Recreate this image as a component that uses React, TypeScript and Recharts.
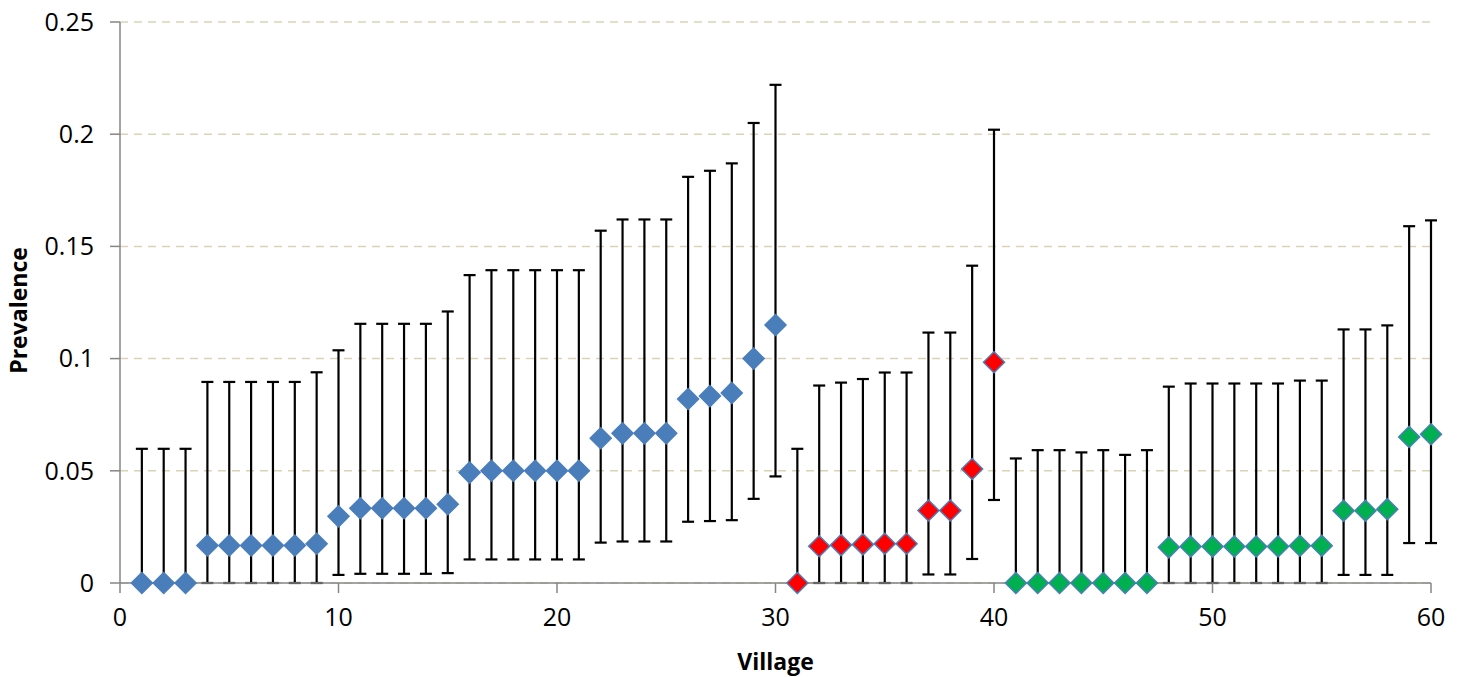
import React from 'react';
import { ScatterChart, Scatter, XAxis, YAxis, CartesianGrid, ErrorBar, Label } from 'recharts';

// villages 1-30 (blue)
const villagesBlue = [1, 2, 3, 4, 5, 6, 7, 8, 9, 10, 11, 12, 13, 14, 15, 16, 17, 18, 19, 20, 21, 22, 23, 24, 25, 26, 27, 28, 29, 30];
const prevBlue = [0, 0, 0, 0.0167, 0.0167, 0.0167, 0.0167, 0.0167, 0.0175, 0.0297, 0.0333, 0.0333, 0.0333, 0.0333, 0.0351, 0.0492, 0.05, 0.05, 0.05, 0.05, 0.05, 0.0645, 0.0667, 0.0667, 0.0667, 0.082, 0.0833, 0.0847, 0.1, 0.115];
const lowBlue = [0, 0, 0, 0, 0, 0, 0, 0, 0, 0.0036, 0.0041, 0.0041, 0.0041, 0.0041, 0.0044, 0.0105, 0.0105, 0.0105, 0.0105, 0.0105, 0.0105, 0.018, 0.0185, 0.0185, 0.0185, 0.0273, 0.0276, 0.028, 0.0375, 0.0475];
const highBlue = [0.0598, 0.0598, 0.0598, 0.0896, 0.0896, 0.0896, 0.0896, 0.0896, 0.0939, 0.1037, 0.1155, 0.1155, 0.1155, 0.1155, 0.121, 0.1372, 0.1394, 0.1394, 0.1394, 0.1394, 0.1394, 0.157, 0.162, 0.162, 0.162, 0.181, 0.1837, 0.187, 0.205, 0.222];

// villages 31-40 (red)
const villagesRed = [31, 32, 33, 34, 35, 36, 37, 38, 39, 40];
const prevRed = [0, 0.0164, 0.0169, 0.0172, 0.0175, 0.0175, 0.0323, 0.0323, 0.0508, 0.0984];
const lowRed = [0, 0, 0, 0, 0, 0, 0.0038, 0.0038, 0.0107, 0.037];
const highRed = [0.0598, 0.088, 0.0893, 0.0909, 0.0938, 0.0938, 0.1116, 0.1116, 0.1414, 0.202];

// villages 41-60 (green)
const villagesGreen = [41, 42, 43, 44, 45, 46, 47, 48, 49, 50, 51, 52, 53, 54, 55, 56, 57, 58, 59, 60];
const prevGreen = [0, 0, 0, 0, 0, 0, 0, 0.0159, 0.0163, 0.0163, 0.0163, 0.0163, 0.0163, 0.0166, 0.0166, 0.0322, 0.0322, 0.0329, 0.0651, 0.0663];
const lowGreen = [0, 0, 0, 0, 0, 0, 0, 0, 0, 0, 0, 0, 0, 0, 0, 0.0036, 0.0036, 0.0036, 0.0178, 0.0178];
const highGreen = [0.0555, 0.0592, 0.0592, 0.0582, 0.0592, 0.0571, 0.0592, 0.0875, 0.0889, 0.0889, 0.0889, 0.0889, 0.0889, 0.0902, 0.0902, 0.113, 0.113, 0.1148, 0.159, 0.1616];

const xTicks = [0, 10, 20, 30, 40, 50, 60];
const yTicks = [0, 0.05, 0.1, 0.15, 0.2, 0.25];

const build = (xs: number[], ys: number[], lo: number[], hi: number[]) =>
  xs.map((x, i) => ({ x, y: ys[i], err: [ys[i] - lo[i], hi[i] - ys[i]] }));

const blueData = build(villagesBlue, prevBlue, lowBlue, highBlue);
const redData = build(villagesRed, prevRed, lowRed, highRed);
const greenData = build(villagesGreen, prevGreen, lowGreen, highGreen);

const AXIS = '#868686';
const BLUE = '#4a7ebb';

const Diamond = (props: any) => {
  const { cx, cy, fill, stroke } = props;
  const r = 10.5;
  return (
    <path
      d={`M${cx},${cy - r}L${cx + r},${cy}L${cx},${cy + r}L${cx - r},${cy}Z`}
      fill={fill}
      stroke={stroke}
      strokeWidth={1.5}
    />
  );
};

export default function App() {
  return (
    <div style={{ position: 'absolute', left: 0, top: 0, fontFamily: '"Open Sans", sans-serif' }}>
      <ScatterChart width={1465} height={677} margin={{ top: 22, right: 34, bottom: 0, left: 0 }}>
        <CartesianGrid vertical={false} stroke="#d9d4b5" strokeDasharray="8 6" strokeWidth={1.5} />
        <XAxis
          type="number"
          dataKey="x"
          domain={[0, 60]}
          ticks={xTicks}
          height={94}
          tickSize={10}
          tickMargin={15}
          stroke={AXIS}
          strokeWidth={1.5}
          tick={{ fill: '#000', fontSize: 25 }}
        >
          <Label
            content={(p: any) => {
              const vb = p.viewBox;
              return (
                <text x={vb.x + vb.width / 2} y={vb.y + 78} textAnchor="middle" dominantBaseline="central" fontWeight="bold" fontSize={23} fill="#000">
                  Village
                </text>
              );
            }}
          />
        </XAxis>
        <YAxis
          type="number"
          dataKey="y"
          domain={[0, 0.25]}
          ticks={yTicks}
          width={120}
          tickSize={10}
          tickMargin={16}
          stroke={AXIS}
          strokeWidth={1.5}
          tick={{ fill: '#000', fontSize: 25 }}
        >
          <Label
            content={(p: any) => {
              const vb = p.viewBox;
              const cx = vb.x + 18;
              const cy = vb.y + vb.height / 2 + 8;
              return (
                <text x={cx} y={cy} transform={`rotate(-90 ${cx} ${cy})`} textAnchor="middle" dominantBaseline="central" fontWeight="bold" fontSize={23} fill="#000">
                  Prevalence
                </text>
              );
            }}
          />
        </YAxis>
        <Scatter data={blueData} isAnimationActive={false} fill={BLUE} shape={(p: any) => <Diamond {...p} fill={BLUE} stroke={BLUE} />}>
          <ErrorBar dataKey="err" direction="y" width={6} stroke="#000" strokeWidth={2.2} isAnimationActive={false} />
        </Scatter>
        <Scatter data={redData} isAnimationActive={false} fill="#ff0000" shape={(p: any) => <Diamond {...p} fill="#ff0000" stroke={BLUE} />}>
          <ErrorBar dataKey="err" direction="y" width={6} stroke="#000" strokeWidth={2.2} isAnimationActive={false} />
        </Scatter>
        <Scatter data={greenData} isAnimationActive={false} fill="#00b050" shape={(p: any) => <Diamond {...p} fill="#00b050" stroke={BLUE} />}>
          <ErrorBar dataKey="err" direction="y" width={6} stroke="#000" strokeWidth={2.2} isAnimationActive={false} />
        </Scatter>
      </ScatterChart>
    </div>
  );
}
